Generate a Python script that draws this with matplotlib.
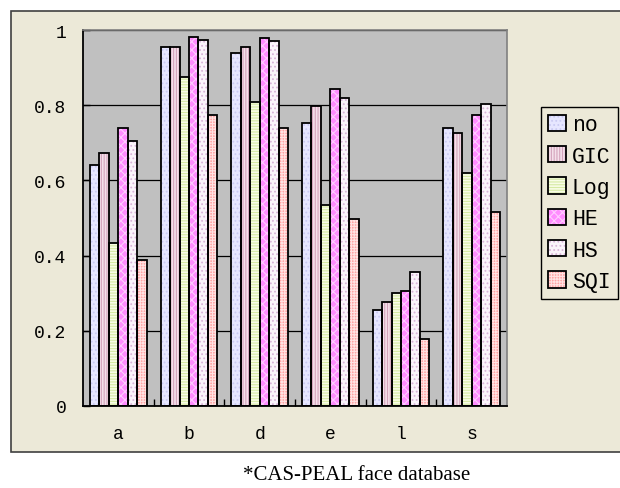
import matplotlib
matplotlib.use("Agg")
import matplotlib.pyplot as plt
import numpy as np
from matplotlib.patches import Rectangle, Patch

categories = ["a", "b", "d", "e", "l", "s"]
methods = ["no", "GIC", "Log", "HE", "HS", "SQI"]

no_vals = [0.642, 0.956, 0.940, 0.752, 0.254, 0.740]
gic_vals = [0.672, 0.956, 0.956, 0.799, 0.276, 0.727]
log_vals = [0.434, 0.876, 0.808, 0.535, 0.301, 0.621]
he_vals = [0.740, 0.982, 0.978, 0.842, 0.306, 0.774]
hs_vals = [0.706, 0.974, 0.970, 0.820, 0.357, 0.804]
sqi_vals = [0.387, 0.774, 0.740, 0.497, 0.178, 0.515]

series = [no_vals, gic_vals, log_vals, he_vals, hs_vals, sqi_vals]
ytick_vals = [0, 0.2, 0.4, 0.6, 0.8, 1.0]
ytick_labels = ["0", "0.2", "0.4", "0.6", "0.8", "1"]

# fill colour, hatch colour, hatch pattern (Excel-like pattern fills)
styles = [
    ("#E6E6FF", "#CACAF2", "...."),
    ("#F4E0EA", "#D4A4BC", "||||||"),
    ("#F8FCE6", "#D6EAA4", "------"),
    ("#FF8CFF", "#FFCCFF", "xxxx"),
    ("#FAF4FA", "#D8B4D8", "...."),
    ("#FFA4A4", "#FFE2E2", "++++++"),
]

MONO = "Liberation Mono"
BEIGE = "#ECE9D8"
plt.rcParams["hatch.linewidth"] = 0.8

fig = plt.figure(figsize=(6.2, 4.89), dpi=100)
fig.patch.set_facecolor("white")

# chart area frame, kept under the axes
fig.patches.append(Rectangle((11 / 620, 36 / 489), 1.0, 441 / 489,
                             transform=fig.transFigure, facecolor=BEIGE,
                             edgecolor="#404040", linewidth=1.2, zorder=-5))

ax = fig.add_axes([83 / 620, 82 / 489, 424 / 620, 376 / 489])
ax.set_zorder(1)
ax.set_facecolor("#C0C0C0")

x = np.arange(len(categories))
bw = 0.134
for i, (vals, (fc, hc, hatch)) in enumerate(zip(series, styles)):
    pos = x + (i - 2.5) * bw
    ax.bar(pos, vals, bw, color=fc, edgecolor=hc, hatch=hatch, linewidth=0, zorder=2)
    ax.bar(pos, vals, bw, fill=False, edgecolor="black", linewidth=1.3, zorder=3)

ax.set_xlim(-0.5, len(categories) - 0.5)
ax.set_ylim(0, 1)
ax.set_yticks(ytick_vals)
ax.set_yticklabels(ytick_labels, family=MONO, fontsize=13)
ax.set_xticks(x)
ax.set_xticklabels(categories, family=MONO, fontsize=13)
ax.set_xticks(x[:-1] + 0.5, minor=True)
ax.tick_params(axis="x", which="major", length=0, pad=14)
ax.tick_params(axis="x", which="minor", direction="in", length=5, width=1)
ax.tick_params(axis="y", direction="in", length=5, width=1, pad=12)
ax.yaxis.grid(True, color="black", linewidth=0.9, zorder=1)
ax.set_axisbelow(True)

for side in ("top", "right"):
    ax.spines[side].set_color("#808080")
    ax.spines[side].set_linewidth(1.2)
for side in ("left", "bottom"):
    ax.spines[side].set_color("black")
    ax.spines[side].set_linewidth(1.3)

handles = [(Patch(facecolor=fc, edgecolor=hc, hatch=h, linewidth=0),
            Patch(fill=False, edgecolor="black", linewidth=1.3))
           for fc, hc, h in styles]
leg = fig.legend(handles, methods, loc="upper left",
                 bbox_to_anchor=(541 / 620, 1 - 108 / 489),
                 bbox_transform=fig.transFigure, borderaxespad=0,
                 prop={"family": MONO, "size": 15.5}, frameon=True,
                 fancybox=False, edgecolor="black", facecolor=BEIGE,
                 framealpha=1, handlelength=0.8, handleheight=0.8,
                 handletextpad=0.3, labelspacing=0.48, borderpad=0.34)
leg.get_frame().set_linewidth(1.0)
leg.set_zorder(2)

fig.text(357 / 620, 1 - 476 / 489, "*CAS-PEAL face database",
         family="Liberation Serif", fontsize=15, ha="center", va="center")

fig.savefig("out.png", dpi=100)
